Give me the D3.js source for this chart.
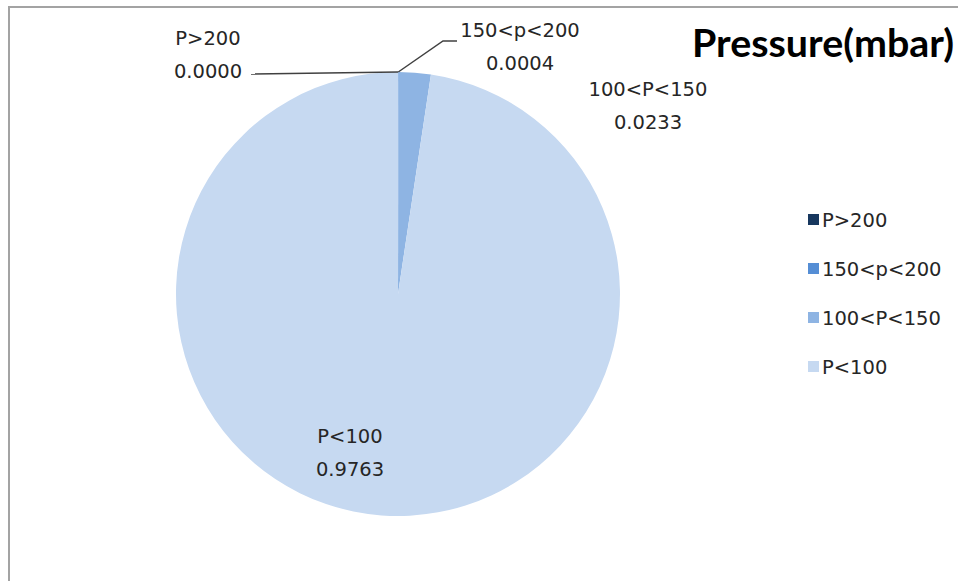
<!DOCTYPE html>
<html>
<head>
<meta charset="utf-8">
<script src="https://cdn.jsdelivr.net/npm/d3@7"></script>
<style>
  html, body { margin: 0; padding: 0; background: #fff; }
  svg { display: block; }
</style>
</head>
<body>
<svg id="chart" width="958" height="581"></svg>
<script>
// Share of samples in each pressure band (mbar)
const categories = ["P>200", "150<p<200", "100<P<150", "P<100"];
const shares = [0.0000, 0.0004, 0.0233, 0.9763];
const valueLabels = ["0.0000", "0.0004", "0.0233", "0.9763"];
const sliceColors = ["#17375e", "#558ed5", "#8eb4e3", "#c6d9f1"];
const chartTitle = "Pressure(mbar)";

const svg = d3.select("#chart");
const W = 958, H = 581;
const cx = 398, cy = 294, R = 222;
const labelFont = "'DejaVu Sans', Verdana, sans-serif";
const labelSize = 19.5;

// Frame of the chart area (top and left edges visible)
svg.append("line").attr("x1", 8).attr("y1", 7).attr("x2", W).attr("y2", 7)
  .attr("stroke", "#a3a3a3").attr("stroke-width", 2);
svg.append("line").attr("x1", 9).attr("y1", 6).attr("x2", 9).attr("y2", H)
  .attr("stroke", "#a3a3a3").attr("stroke-width", 2);

// Pie, starting at 12 o'clock and running clockwise in category order
const pie = d3.pie().sort(null).value(d => d.v);
const data = categories.map((c, i) => ({ c, v: shares[i], label: valueLabels[i], color: sliceColors[i] }));
const arcs = pie(data);
const arc = d3.arc().innerRadius(0).outerRadius(R);

const g = svg.append("g").attr("transform", `translate(${cx},${cy})`);
g.selectAll("path.slice").data(arcs).enter().append("path")
  .attr("class", "slice")
  .attr("d", arc)
  .attr("fill", d => d.data.color);

// Point on the rim at a slice's mid-angle
function rim(d) {
  const a = (d.startAngle + d.endAngle) / 2;
  return [cx + R * Math.sin(a), cy - R * Math.cos(a)];
}

// Data label placement (centre x, first baseline) for each slice
const labelPos = [
  { x: 208, y: 45 },
  { x: 520, y: 37 },
  { x: 648, y: 96 },
  { x: 350, y: 443 }
];

// Leader lines for the two slivers at the top
const p0 = rim(arcs[0]);
svg.append("polyline")
  .attr("points", [[p0[0], p0[1]], [251, p0[1] + 2]].map(p => p.join(",")).join(" "))
  .attr("fill", "none").attr("stroke", "#404040").attr("stroke-width", 1.5);
const p1 = rim(arcs[1]);
svg.append("polyline")
  .attr("points", [[p1[0], p1[1]], [443, 41], [457, 41]].map(p => p.join(",")).join(" "))
  .attr("fill", "none").attr("stroke", "#404040").attr("stroke-width", 1.5);

// Category name and value on two lines
arcs.forEach((d, i) => {
  const t = svg.append("text")
    .attr("x", labelPos[i].x).attr("y", labelPos[i].y)
    .attr("text-anchor", "middle")
    .attr("font-family", labelFont).attr("font-size", labelSize)
    .attr("fill", "#262626");
  t.append("tspan").attr("x", labelPos[i].x).text(d.data.c);
  t.append("tspan").attr("x", labelPos[i].x).attr("dy", 33).text(d.data.label);
});

// Title
svg.append("text")
  .attr("x", 692).attr("y", 57)
  .attr("font-family", "Lato, 'Open Sans', sans-serif")
  .attr("font-weight", "bold").attr("font-size", 39)
  .attr("textLength", 262).attr("lengthAdjust", "spacingAndGlyphs")
  .attr("fill", "#000")
  .text(chartTitle);

// Legend
const legend = svg.append("g").attr("transform", "translate(808,214)");
const rows = legend.selectAll("g").data(data).enter().append("g")
  .attr("transform", (d, i) => `translate(0,${i * 49})`);
rows.append("rect").attr("width", 11).attr("height", 11).attr("fill", d => d.color);
rows.append("text").attr("x", 14).attr("y", 13)
  .attr("font-family", labelFont).attr("font-size", labelSize)
  .attr("fill", "#262626")
  .text(d => d.c);
</script>
</body>
</html>
